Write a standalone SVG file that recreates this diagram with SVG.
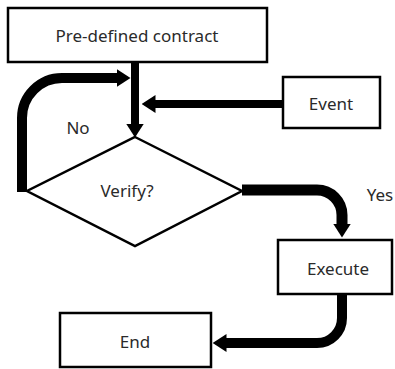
<svg xmlns="http://www.w3.org/2000/svg" width="395" height="369" viewBox="0 0 395 369">
  <style>
    .box { fill: #fff; stroke: #000; stroke-width: 2.5; }
    .label { font-family: "Noto Sans", "Open Sans", sans-serif; font-size: 17px; fill: #2a2a2a; text-anchor: middle; dominant-baseline: central; }
    .flow { fill: none; stroke: #000; stroke-linejoin: round; }
    .thin { stroke-width: 8; }
    .thick { stroke-width: 10; }
    .heavy { stroke-width: 11; }
  </style>
  <defs>
    <marker id="head" viewBox="0 0 14 18" refX="0.5" refY="9" markerWidth="14" markerHeight="18" markerUnits="userSpaceOnUse" orient="auto">
      <path d="M0,0 L14,9 L0,18 Z" fill="#000"/>
    </marker>
  </defs>
  <rect width="395" height="369" fill="#fff"/>

  <g id="connectors">
    <path class="flow thin" d="M135,62 V124" marker-end="url(#head)"/>
    <path class="flow thin" d="M283,104 H155" marker-end="url(#head)"/>
    <path class="flow thick" d="M22,192 V118 A40,40 0 0 1 62,78 H117" marker-end="url(#head)"/>
    <path class="flow heavy" d="M242,190 H317 A25,25 0 0 1 342,215 V224" marker-end="url(#head)"/>
    <path class="flow thick" d="M342,294 V318 A25,25 0 0 1 317,343 H226" marker-end="url(#head)"/>
  </g>

  <g id="contract">
    <rect class="box" x="8" y="8" width="259" height="54"/>
    <text class="label" x="137" y="35">Pre-defined contract</text>
  </g>
  <g id="event">
    <rect class="box" x="283" y="77" width="97" height="51"/>
    <text class="label" x="331" y="103">Event</text>
  </g>
  <g id="verify">
    <polygon class="box" points="135,137 242,191 135,246 27,191"/>
    <text class="label" x="127" y="190">Verify?</text>
  </g>
  <g id="execute">
    <rect class="box" x="278" y="240" width="114" height="54"/>
    <text class="label" x="338" y="268">Execute</text>
  </g>
  <g id="end">
    <rect class="box" x="60" y="313" width="151" height="54"/>
    <text class="label" x="135" y="341">End</text>
  </g>

  <g id="branch-labels">
    <text class="label" x="78" y="127">No</text>
    <text class="label" x="380" y="194">Yes</text>
  </g>
</svg>
